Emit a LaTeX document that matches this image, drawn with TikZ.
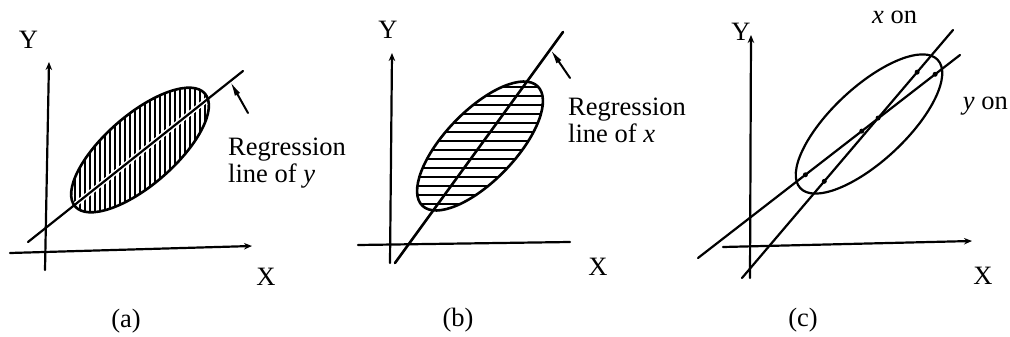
\documentclass[tikz,border=0pt]{standalone}
\usepackage{fontspec}
\setmainfont{Liberation Serif}
\usetikzlibrary{arrows.meta,calc}
\begin{document}
\begin{tikzpicture}[x=1pt,y=-1pt,
  lab/.style={font=\fontsize{26.5}{28}\selectfont, inner sep=0pt},
  axis/.style={line width=2.2pt, line cap=round},
  axarrow/.style={axis, -{Stealth[length=8pt,width=6.5pt]}},
  rline/.style={line width=2.2pt, line cap=round},
  oval/.style={line width=2.6pt},
  hatch/.style={line width=1.2pt},
  pointer/.style={line width=2pt, line cap=round, -{Latex[length=15pt,width=6pt]}},
  dotmark/.style={circle, fill=black, inner sep=0pt, minimum size=5pt}]
\useasboundingbox (0,0) rectangle (1010,337);
\fill[white] (0,0) rectangle (1010,337);

% ---------------- (a) ----------------
\coordinate (aYb) at (45,270);
\coordinate (aYt) at (49,62);
\coordinate (aXl) at (10,253);
\coordinate (aXr) at (252,246);
\coordinate (aR1) at (28,242);
\coordinate (aR2) at (243,71);
\coordinate (aC) at (140,150);
\begin{scope}
  \clip[rotate around={41:(aC)}] (aC) ellipse [x radius=86, y radius=35];
  \foreach \x in {50,55,...,230} \draw[hatch] (\x,60) -- (\x,230);
\end{scope}
\draw[white, line width=5pt] (aR1) -- (aR2);
\draw[rline] (aR1) -- (aR2);
\draw[oval, rotate around={41:(aC)}] (aC) ellipse [x radius=86, y radius=35];
\draw[axarrow] (aYb) -- (aYt);
\draw[axarrow] (aXl) -- (aXr);
\coordinate (aPs) at (248,113);
\coordinate (aPt) at ($(aR1)!0.94!(aR2)$);
\draw[pointer] (aPs) -- (aPt);
\node[lab] (aY) at (28.5,40) {Y};
\node[lab] (aX) at (266,277) {X};
\node[lab, anchor=base west] (aT1) at (228,155) {Regression};
\node[lab, anchor=base west] (aT2) at (228,182) {line of \textit{y}};
\node[lab] (aCap) at (126,321) {(a)};

% ---------------- (b) ----------------
\coordinate (bYb) at (390,263);
\coordinate (bYt) at (392,53);
\coordinate (bXl) at (358,245);
\coordinate (bXr) at (570,242);
\coordinate (bR1) at (395,263);
\coordinate (bR2) at (563,32);
\coordinate (bC) at (480,146);
\begin{scope}
  \clip[rotate around={46:(bC)}] (bC) ellipse [x radius=83, y radius=35];
  \foreach \y in {60,69,...,230} \draw[hatch, line width=1.5pt] (400,\y) -- (560,\y);
\end{scope}
\draw[oval, rotate around={46:(bC)}] (bC) ellipse [x radius=83, y radius=35];
\draw[rline, line width=2.6pt] (bR1) -- (bR2);
\draw[axarrow] (bYb) -- (bYt);
\draw[axis] (bXl) -- (bXr);
\coordinate (bPs) at (570,78);
\coordinate (bPt) at ($(bR1)!0.925!(bR2)$);
\draw[pointer] (bPs) -- (bPt);
\node[lab] (bY) at (388,30) {Y};
\node[lab] (bX) at (598,267) {X};
\node[lab, anchor=base west] (bT1) at (568,115) {Regression};
\node[lab, anchor=base west] (bT2) at (568,142) {line of \textit{x}};
\node[lab] (bCap) at (458,320) {(b)};

% ---------------- (c) ----------------
\coordinate (cYb) at (750,278);
\coordinate (cYt) at (751,35);
\coordinate (cXl) at (723,247);
\coordinate (cXr) at (972,241);
\coordinate (cL1a) at (742,278);
\coordinate (cL1b) at (953,30);
\coordinate (cL2a) at (698,258);
\coordinate (cL2b) at (960,55);
\coordinate (cC) at (869,124);
\draw[oval, line width=2.2pt, rotate around={43:(cC)}] (cC) ellipse [x radius=94, y radius=37];
\draw[rline] (cL1a) -- (cL1b);
\draw[rline] (cL2a) -- (cL2b);
\draw[axarrow] (cYb) -- (cYt);
\draw[axarrow] (cXl) -- (cXr);
\node[dotmark] (cd1) at ($(cL1a)!0.83!(cL1b)$) {};
\node[dotmark] (cd2) at ($(cL1a)!0.645!(cL1b)$) {};
\node[dotmark] (cd3) at ($(cL1a)!0.39!(cL1b)$) {};
\node[dotmark] (cd4) at ($(cL2a)!0.905!(cL2b)$) {};
\node[dotmark] (cd5) at ($(cL2a)!0.625!(cL2b)$) {};
\node[dotmark] (cd6) at ($(cL2a)!0.41!(cL2b)$) {};
\node[lab] (cY) at (741,32) {Y};
\node[lab] (cX) at (983,276) {X};
\node[lab, anchor=base west] (cT1) at (872,24) {\textit{x} on};
\node[lab, anchor=base east] (cT2) at (1008,110) {\textit{y} on};
\node[lab] (cCap) at (803,320) {(c)};
\end{tikzpicture}
\end{document}
